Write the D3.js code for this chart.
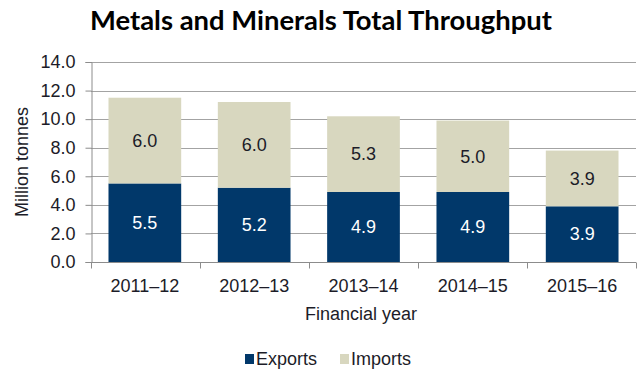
<!DOCTYPE html>
<html>
<head>
<meta charset="utf-8">
<script src="https://cdn.jsdelivr.net/npm/d3@7"></script>
<style>
  html, body { margin: 0; padding: 0; background: #fff; }
  svg { display: block; }
  text { font-family: "Liberation Sans", Arial, sans-serif; fill: #1c1c28; }
</style>
</head>
<body>
<svg id="chart" width="644" height="373"></svg>
<script>
// Financial years on the category axis
const years = ["2011\u201312", "2012\u201313", "2013\u201314", "2014\u201315", "2015\u201316"];
// Throughput in million tonnes
const exportsMt = [5.5, 5.2, 4.9, 4.9, 3.9];
const importsMt = [6.0, 6.0, 5.3, 5.0, 3.9];
// Value axis ticks
const yTicks = [0, 2, 4, 6, 8, 10, 12, 14];

const seriesNames = ["Exports", "Imports"];
const colors = { Exports: "#01386a", Imports: "#d8d7bf" };

const svg = d3.select("#chart");
const W = 644, H = 373;
const margin = { left: 91, right: 8, top: 62, bottom: 111 };

const rows = years.map((y, i) => ({ year: y, Exports: exportsMt[i], Imports: importsMt[i] }));
const stacked = d3.stack().keys(seriesNames)(rows);

const x = d3.scaleBand().domain(years)
  .range([margin.left, W - margin.right])
  .paddingInner(0.335).paddingOuter(0.16);
const y = d3.scaleLinear().domain([0, 14]).range([H - margin.bottom, margin.top]);

// Title
svg.append("text")
  .attr("x", 321).attr("y", 30)
  .attr("text-anchor", "middle")
  .attr("textLength", 462).attr("lengthAdjust", "spacingAndGlyphs")
  .style("font-family", "Lato, 'Open Sans', sans-serif")
  .style("font-weight", "bold")
  .style("font-size", "26px")
  .style("fill", "#000")
  .text("Metals and Minerals Total Throughput");

// Horizontal gridlines
svg.append("g").selectAll("line").data(yTicks.slice(1)).join("line")
  .attr("x1", margin.left).attr("x2", W - margin.right)
  .attr("y1", d => Math.round(y(d)) + 0.5).attr("y2", d => Math.round(y(d)) + 0.5)
  .attr("stroke", "#a3a3a3").attr("stroke-width", 1);

// Stacked bars
svg.append("g").selectAll("g").data(stacked).join("g")
  .attr("fill", d => colors[d.key])
  .selectAll("rect").data(d => d).join("rect")
  .attr("x", d => x(d.data.year))
  .attr("width", x.bandwidth())
  .attr("y", d => y(d[1]))
  .attr("height", d => y(d[0]) - y(d[1]));

// Segment value labels
svg.append("g").selectAll("g").data(stacked).join("g")
  .selectAll("text").data(d => d.map(v => ({ v, key: d.key }))).join("text")
  .attr("x", d => x(d.v.data.year) + x.bandwidth() / 2)
  .attr("y", d => (y(d.v[0]) + y(d.v[1])) / 2)
  .attr("dy", "0.35em")
  .attr("text-anchor", "middle")
  .style("font-size", "18px")
  .style("fill", d => d.key === "Exports" ? "#ffffff" : "#1c1c28")
  .text(d => d3.format(".1f")(d.v.data[d.key]));

// Y axis
const yAxis = svg.append("g")
  .attr("transform", `translate(${margin.left + 0.5},0)`)
  .call(d3.axisLeft(y).tickValues(yTicks).tickFormat(d3.format(".1f")).tickSize(6).tickPadding(10));
yAxis.select(".domain").attr("stroke", "#8c8c8c");
yAxis.selectAll(".tick line").attr("stroke", "#8c8c8c");
yAxis.selectAll(".tick text").style("font-size", "18px").style("font-family", null).attr("fill", null);

// X axis with tick marks at band boundaries
const xAxisG = svg.append("g").attr("transform", `translate(0,${y(0) + 0.5})`);
xAxisG.append("line")
  .attr("x1", margin.left).attr("x2", W - margin.right)
  .attr("stroke", "#8c8c8c");
const step = x.step();
const bounds = [margin.left];
years.slice(1).forEach(d => bounds.push(x(d) - x.paddingInner() * step / 2));
bounds.push(W - margin.right);
xAxisG.selectAll("line.tk").data(bounds).join("line")
  .attr("class", "tk")
  .attr("x1", d => Math.round(d) + 0.5).attr("x2", d => Math.round(d) + 0.5)
  .attr("y1", 0).attr("y2", 6)
  .attr("stroke", "#8c8c8c");
xAxisG.selectAll("text").data(years).join("text")
  .attr("x", d => x(d) + x.bandwidth() / 2)
  .attr("y", 29)
  .attr("text-anchor", "middle")
  .style("font-size", "18px")
  .text(d => d);

// Axis titles
svg.append("text")
  .attr("x", 361).attr("y", 320)
  .attr("text-anchor", "middle")
  .style("font-size", "18px")
  .text("Financial year");
svg.append("text")
  .attr("transform", "translate(28,162) rotate(-90)")
  .attr("text-anchor", "middle")
  .style("font-size", "18px")
  .text("Million tonnes");

// Legend
const legend = svg.append("g");
const legendPos = [245, 340];
seriesNames.forEach((k, i) => {
  const g = legend.append("g").attr("transform", `translate(${legendPos[i]},354)`);
  g.append("rect").attr("width", 9).attr("height", 10).attr("fill", colors[k]);
  g.append("text").attr("x", 11).attr("y", 11)
    .style("font-size", "18px").text(k);
});
</script>
</body>
</html>
